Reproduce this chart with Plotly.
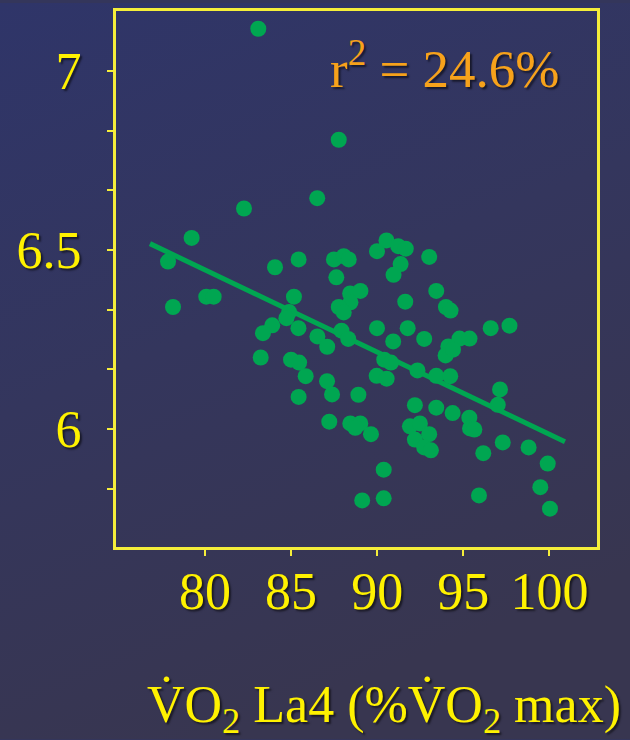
import base64
import plotly.graph_objects as go

# ---- data ----
vo2_la4 = [83.10, 87.77, 86.52, 82.27, 79.23, 77.86, 84.07, 85.44, 87.49, 88.06,
           88.35, 87.63, 89.99, 90.54, 91.22, 91.66, 91.36, 90.95, 93.02, 78.15,
           80.08, 80.51, 85.17, 88.43, 89.03, 88.45, 87.77, 88.06, 84.89, 84.73,
           83.91, 83.37, 85.43, 86.53, 87.10, 87.93, 88.32, 83.24, 85.00, 85.47,
           85.85, 87.09, 87.38, 85.44, 88.91, 87.22, 88.44, 89.02, 88.73, 89.13,
           93.43, 91.63, 93.99, 94.26, 89.99, 91.77, 90.93, 92.73, 96.59, 97.68,
           94.13, 94.78, 95.36, 93.97, 94.40, 90.41, 90.80, 89.97, 90.55, 92.34,
           93.43, 94.24, 97.13, 97.00, 92.19, 93.43, 94.38, 95.35, 95.39, 95.64,
           91.90, 92.48, 92.19, 93.02, 92.73, 93.12, 89.64, 96.16, 97.29, 98.79,
           99.90, 90.38, 99.47, 95.91, 90.38, 100.03]
y_values = [7.118, 6.808, 6.645, 6.616, 6.534, 6.468, 6.452, 6.474, 6.474, 6.483,
            6.474, 6.424, 6.497, 6.527, 6.511, 6.504, 6.461, 6.431, 6.481, 6.341,
            6.370, 6.370, 6.370, 6.379, 6.386, 6.354, 6.341, 6.326, 6.327, 6.310,
            6.290, 6.268, 6.282, 6.259, 6.230, 6.275, 6.252, 6.200, 6.194, 6.186,
            6.148, 6.134, 6.097, 6.090, 6.096, 6.021, 6.016, 6.016, 6.004, 5.801,
            6.386, 6.356, 6.341, 6.331, 6.282, 6.282, 6.245, 6.252, 6.282, 6.289,
            6.231, 6.253, 6.253, 6.206, 6.222, 6.194, 6.186, 6.149, 6.141, 6.164,
            6.149, 6.148, 6.111, 6.068, 6.067, 6.060, 6.045, 6.032, 6.002, 5.999,
            6.008, 6.016, 5.971, 5.986, 5.949, 5.941, 5.986, 5.933, 5.963, 5.949,
            5.904, 5.887, 5.838, 5.815, 5.807, 5.778]

fit_x = [76.81, 100.90]
fit_y = [6.518, 5.965]

x_tickvals = [80, 85, 90, 95, 100]
x_ticktext = ["80", "85", "90", "95", "100"]
y_tickvals = [6.0, 6.5, 7.0]
y_ticktext = ["6", "6.5", "7"]
y_minor_tickvals = [5.8333, 6.1667, 6.3333, 6.6667, 6.8333]

r2_text = "r<sup>2</sup> = 24.6%"
x_title = "V\u0307O<sub>2</sub> La4 (%V\u0307O<sub>2</sub> max)"

# ---- style ----
YELLOW = "#FFF200"
LINE_YELLOW = "#F5EE3A"
GREEN = "#00A651"
ORANGE = "#F7A21B"
FONT = "Liberation Serif"
SHADOW = "2px 2px 2px rgba(0,0,0,0.55)"

W, H = 630, 740
ML, MR, MT, MB = 116, 33, 8, 193
pw, ph = W - ML - MR, H - MT - MB

svg = (
    '<svg xmlns="http://www.w3.org/2000/svg" width="630" height="740">'
    '<defs><linearGradient id="g" x1="0" y1="0" x2="0.35" y2="1">'
    '<stop offset="0" stop-color="#2F3569"/>'
    '<stop offset="0.5" stop-color="#34365D"/>'
    '<stop offset="1" stop-color="#383650"/>'
    '</linearGradient></defs>'
    '<rect width="630" height="740" fill="url(#g)"/></svg>'
)
bg_src = "data:image/svg+xml;base64," + base64.b64encode(svg.encode()).decode()

fig = go.Figure()
fig.add_trace(go.Scatter(
    x=fit_x, y=fit_y, mode="lines",
    line=dict(color=GREEN, width=5), hoverinfo="skip", showlegend=False))
fig.add_trace(go.Scatter(
    x=vo2_la4, y=y_values, mode="markers",
    marker=dict(color=GREEN, size=16, line=dict(width=0)),
    showlegend=False))

fig.update_layout(
    width=W, height=H,
    margin=dict(l=ML, r=MR, t=MT, b=MB, pad=0),
    paper_bgcolor="#34365B",
    plot_bgcolor="rgba(0,0,0,0)",
    font=dict(family=FONT, color=YELLOW),
    images=[dict(source=bg_src, xref="paper", yref="paper",
                 x=-ML / pw, y=1 + MT / ph, sizex=W / pw, sizey=H / ph,
                 xanchor="left", yanchor="top", sizing="stretch", layer="below")],
    xaxis=dict(
        range=[74.84, 102.76], tickvals=x_tickvals, ticktext=x_ticktext,
        showgrid=False, zeroline=False,
        showline=True, linecolor=LINE_YELLOW, linewidth=3, mirror=True,
        ticks="outside", ticklen=6, tickwidth=2, tickcolor=LINE_YELLOW,
        ticklabelstandoff=-9,
        tickfont=dict(family=FONT, size=52, color=YELLOW, shadow=SHADOW),
    ),
    yaxis=dict(
        range=[5.671, 7.1675], tickvals=y_tickvals, ticktext=y_ticktext,
        showgrid=False, zeroline=False,
        showline=True, linecolor=LINE_YELLOW, linewidth=3, mirror=True,
        ticks="outside", ticklen=6, tickwidth=2, tickcolor=LINE_YELLOW,
        minor=dict(tickvals=y_minor_tickvals, ticks="outside", ticklen=6,
                   tickwidth=2, tickcolor=LINE_YELLOW, showgrid=False),
        ticklabelstandoff=15,
        tickfont=dict(family=FONT, size=52, color=YELLOW, shadow=SHADOW),
    ),
    annotations=[
        dict(text=r2_text, xref="paper", yref="paper", x=(328 - ML) / pw,
             y=1 - (98 - MT) / ph, xanchor="left", yanchor="bottom",
             showarrow=False,
             font=dict(family=FONT, size=53, color=ORANGE, shadow=SHADOW)),
        dict(text=x_title, xref="paper", yref="paper", x=(384 - ML) / pw,
             y=1 - (744 - MT) / ph, xanchor="center", yanchor="bottom",
             showarrow=False,
             font=dict(family=FONT, size=52, color=YELLOW, shadow=SHADOW)),
    ],
)

fig.write_html("out.html")
